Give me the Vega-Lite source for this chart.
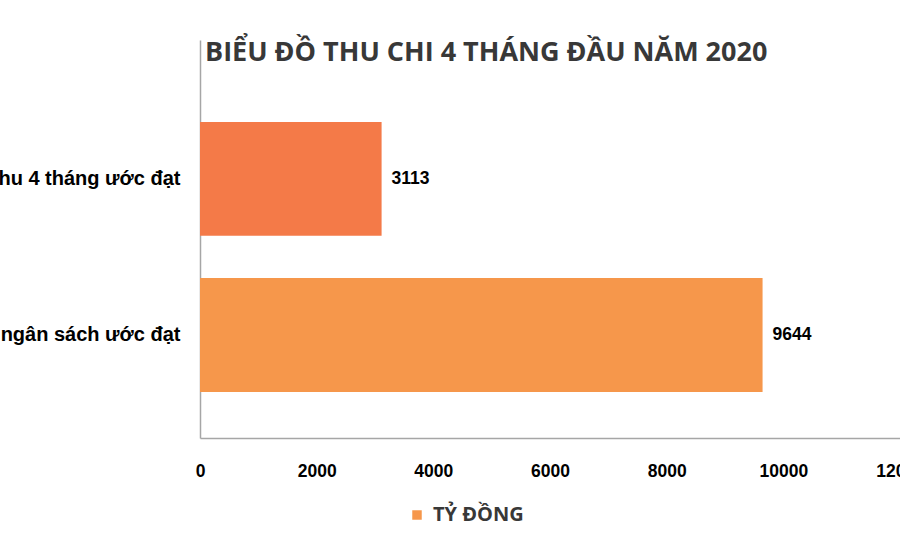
{
  "$schema": "https://vega.github.io/schema/vega-lite/v6.json",
  "autosize": "none",
  "width": 700,
  "height": 398,
  "padding": {"left": 200, "top": 40, "right": 0, "bottom": 114},
  "background": "white",
  "title": {
    "text": "BIỂU ĐỒ THU CHI 4 THÁNG ĐẦU NĂM 2020",
    "anchor": "start",
    "frame": "group",
    "orient": "top",
    "offset": 0,
    "dx": 5,
    "dy": 27,
    "font": "Open Sans",
    "fontSize": 27,
    "fontWeight": "bold",
    "color": "#383838"
  },
  "data": {
    "values": [
      {"category": "Thu 4 tháng ước đạt", "value": 3113, "series": "TỶ ĐỒNG"},
      {"category": "Chi ngân sách ước đạt", "value": 9644, "series": "TỶ ĐỒNG"}
    ]
  },
  "config": {"view": {"stroke": null}},
  "encoding": {
    "y": {
      "field": "category",
      "type": "nominal",
      "sort": null,
      "scale": {"paddingInner": 0.27, "paddingOuter": 0.41, "align": 0.64},
      "axis": {
        "title": null,
        "ticks": false,
        "domainColor": "#a6a6a6",
        "domainWidth": 1.5,
        "labelFont": "Liberation Sans",
        "labelFontSize": 20,
        "labelFontWeight": "bold",
        "labelColor": "#000000",
        "labelPadding": 20,
        "labelLimit": 400
      }
    },
    "x": {
      "field": "value",
      "type": "quantitative",
      "scale": {"domain": [0, 12000], "nice": false},
      "axis": {
        "title": null,
        "grid": false,
        "ticks": false,
        "values": [0, 2000, 4000, 6000, 8000, 10000, 12000],
        "format": "d",
        "domainColor": "#a6a6a6",
        "domainWidth": 1.5,
        "labelFont": "Liberation Sans",
        "labelFontSize": 17.5,
        "labelFontWeight": "bold",
        "labelColor": "#000000",
        "labelPadding": 24,
        "labelFlush": false,
        "labelOverlap": false
      }
    }
  },
  "layer": [
    {
      "mark": {"type": "bar"},
      "encoding": {
        "color": {
          "field": "series",
          "type": "nominal",
          "scale": {"domain": ["TỶ ĐỒNG"], "range": ["#F6974B"]},
          "condition": {"test": "datum.category === 'Thu 4 tháng ước đạt'", "value": "#F47A48"},
          "legend": {
            "title": null,
            "orient": "none",
            "legendX": 207,
            "legendY": 465,
            "symbolType": "square",
            "symbolSize": 90,
            "symbolStrokeWidth": 0,
            "labelFont": "Open Sans",
            "labelFontSize": 20,
            "labelFontWeight": "bold",
            "labelColor": "#383838",
            "labelOffset": 6
          }
        }
      }
    },
    {
      "mark": {
        "type": "text",
        "align": "left",
        "baseline": "middle",
        "dx": 10,
        "font": "Liberation Sans",
        "fontSize": 17.5,
        "fontWeight": "bold",
        "color": "#000000"
      },
      "encoding": {
        "text": {"field": "value", "type": "quantitative", "format": "d"}
      }
    }
  ]
}
